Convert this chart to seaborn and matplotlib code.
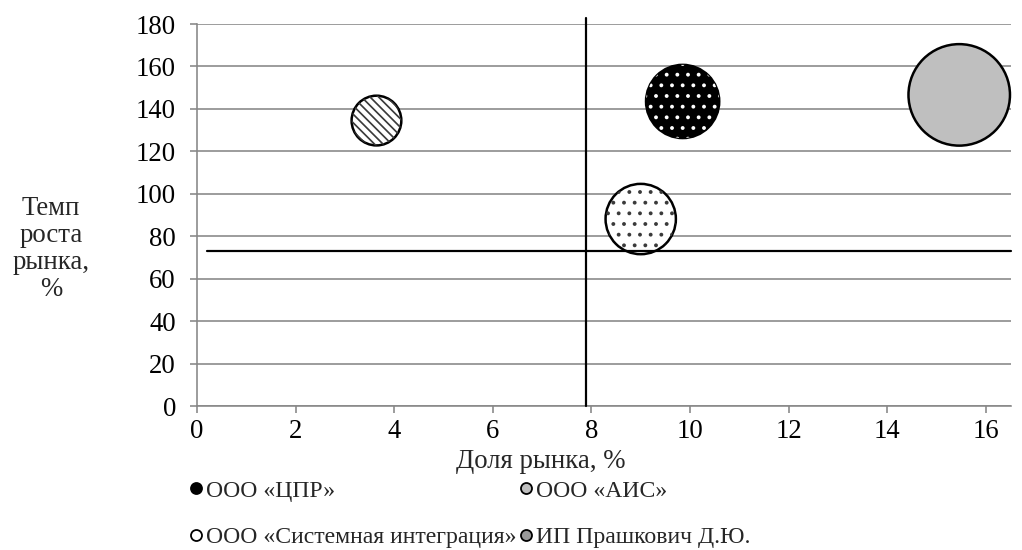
import matplotlib
matplotlib.use("Agg")
import matplotlib.pyplot as plt
from matplotlib.lines import Line2D
import pandas as pd
import seaborn as sns

# --- data -------------------------------------------------------------
companies = ["ООО «ЦПР»", "ООО «АИС»", "ООО «Системная интеграция»", "ИП Прашкович Д.Ю."]
market_share = [9.85, 15.46, 9.0, 3.64]        # Доля рынка, %
growth_rate = [143.5, 146.6, 88.1, 134.5]      # Темп роста рынка, %
bubble_size = [52, 100, 48, 24]                # relative bubble weight

# quadrant dividers
share_divider_x = [7.89, 7.89]
share_divider_y = [0, 182.8]
growth_divider_x = [0.2, 16.5]
growth_divider_y = [73.2, 73.2]

x_ticks = [0, 2, 4, 6, 8, 10, 12, 14, 16]
y_ticks = [0, 20, 40, 60, 80, 100, 120, 140, 160, 180]

# --- styling ----------------------------------------------------------
DPI = 128
W, H = 1022, 550


def px(v):
    """pixels -> points at the figure dpi"""
    return v * 72 / DPI


face_colors = ["black", "#bfbfbf", "white", "white"]
hatch_styles = [("..", "white"), (None, None), ("..", "#3a3a3a"), ("\\\\\\\\\\", "#3a3a3a")]
legend_faces = ["black", "#bfbfbf", "white", "#9a9a9a"]

sns.set_theme(style="white")
plt.rcParams["font.family"] = ["Liberation Serif", "DejaVu Serif"]
plt.rcParams["hatch.linewidth"] = px(1.7)

grid_gray = "#878787"
fs_axis = px(26.7)
fs_legend = px(23.8)

fig = plt.figure(figsize=(W / DPI, H / DPI), dpi=DPI)
ax = fig.add_axes([197 / W, 1 - 406 / H, (1010.5 - 197) / W, (406 - 24) / H])

df = pd.DataFrame({
    "company": companies,
    "share": market_share,
    "growth": growth_rate,
    "size": bubble_size,
})

s_max = px(101.5) ** 2

sns.scatterplot(
    data=df, x="share", y="growth", hue="company",
    palette=dict(zip(companies, face_colors)),
    size="size", sizes=(0, s_max), size_norm=(0, 100),
    edgecolor="black", linewidth=px(2.5), legend=False,
    ax=ax, clip_on=False, zorder=3,
)

# pattern fills on top of the solid bubbles
for i, (hatch, hcolor) in enumerate(hatch_styles):
    if hatch is None:
        continue
    sns.scatterplot(
        data=df.iloc[[i]], x="share", y="growth",
        size="size", sizes=(0, s_max), size_norm=(0, 100),
        color="white", edgecolor=hcolor, linewidth=0, legend=False,
        ax=ax, clip_on=False, zorder=3.5,
    )
    coll = ax.collections[-1]
    coll.set_facecolor("none")
    coll.set_hatch(hatch)

# quadrant dividers
ax.plot(share_divider_x, share_divider_y, color="black", lw=px(2.2),
        clip_on=False, zorder=4)
ax.plot(growth_divider_x, growth_divider_y, color="black", lw=px(2.2),
        clip_on=False, zorder=4)

# --- axes -------------------------------------------------------------
ax.set_xlim(0, 16.5)
ax.set_ylim(0, 180)
ax.set_xticks(x_ticks)
ax.set_yticks(y_ticks)
ax.set_xticklabels([str(t) for t in x_ticks])
ax.set_yticklabels([str(t) for t in y_ticks])
ax.set_xlabel("")
ax.set_ylabel("")

ax.yaxis.grid(True, color=grid_gray, lw=px(1.6))
ax.xaxis.grid(False)
ax.set_axisbelow(True)
for side in ("top", "right"):
    ax.spines[side].set_visible(False)
for side in ("left", "bottom"):
    ax.spines[side].set_color(grid_gray)
    ax.spines[side].set_linewidth(px(1.6))

ax.tick_params(axis="both", which="major", bottom=True, left=True,
               direction="out", length=px(7), width=px(1.6), color=grid_gray,
               labelsize=fs_axis, labelcolor="black")
ax.tick_params(axis="y", pad=px(14))
ax.tick_params(axis="x", pad=px(6))

fig.text(51 / W, 1 - 249 / H, "Темп\nроста\nрынка,\n%", ha="center", va="center",
         multialignment="center", fontsize=fs_axis, linespacing=1.1)
fig.text(541 / W, 1 - 461 / H, "Доля рынка, %", ha="center", va="center",
         fontsize=fs_axis)

# --- legend (row-wise order in two columns) ---------------------------
handles = [
    Line2D([], [], marker="o", linestyle="none", markersize=px(11),
           markerfacecolor=fc, markeredgecolor="black", markeredgewidth=px(1.8))
    for fc in legend_faces
]
order = [0, 2, 1, 3]
fig.legend([handles[i] for i in order], [companies[i] for i in order],
           ncol=2, loc="upper left", bbox_to_anchor=(189 / W, 1 - 480 / H),
           frameon=False, fontsize=fs_legend, handlelength=0.55,
           handletextpad=0.15, columnspacing=0.12, labelspacing=1.05,
           borderaxespad=0, borderpad=0)

fig.savefig("out.png", dpi=DPI)
